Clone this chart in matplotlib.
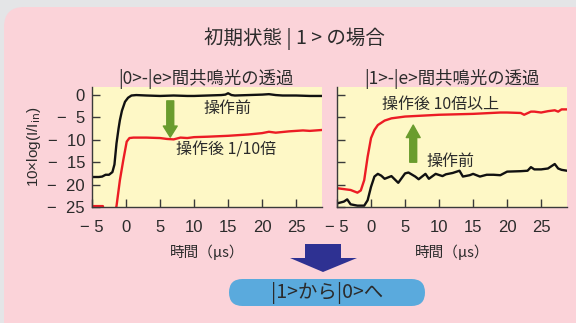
import matplotlib
matplotlib.use("Agg")
import matplotlib.pyplot as plt
from matplotlib.patches import FancyBboxPatch, Polygon
from matplotlib.transforms import IdentityTransform

W, H = 576, 323
JP = ["Noto Sans CJK JP", "DejaVu Sans"]
NUM = ["Liberation Sans", "DejaVu Sans"]

# data (time in us, 10*log(I/Iin))
l_black_x = [-5, -4, -3.5, -3, -2.5, -2, -1.7, -1.4, -1.1, -0.9, -0.6, -0.15, 0.3, 0.8, 1.5, 3, 5, 7, 9, 10, 12, 14, 14.6, 15, 15.5, 16, 18, 20, 21, 22, 23, 25, 27, 28.8]
l_black_y = [-18.3, -18.3, -18.2, -17.8, -17.8, -17.2, -15.5, -10.8, -7.5, -5.6, -3.5, -1.5, -0.6, -0.1, 0, -0.1, -0.2, -0.1, -0.2, -0.2, -0.1, 0, 0.1, 0.4, 0.0, -0.1, 0, 0.1, 0.2, 0, -0.1, -0.1, -0.2, -0.2]
l_red_x = [-5, -3.4, -3.3, -1.6, -1.4, -0.9, -0.4, 0.1, 0.5, 1.1, 3, 5, 6, 7, 8, 9, 10, 12, 15, 18, 20, 21, 22, 24, 26, 27, 28.8]
l_red_y = [-24.8, -24.8, -26, -26, -24.8, -19, -14.5, -10.4, -9.6, -9.5, -9.5, -9.6, -9.8, -9.9, -9.5, -9.6, -9.4, -9.3, -9.1, -8.8, -8.5, -8.2, -8.4, -8.1, -7.9, -8.0, -7.8]

r_red_x = [-5, -4, -3, -2, -1.5, -1, -0.5, 0, 0.5, 1, 2, 3, 5, 10, 15, 19, 20, 22, 22.5, 23.5, 24, 25, 26, 27, 27.5, 28, 28.8]
r_red_y = [-20.8, -21.0, -21.2, -21.8, -21.3, -19.0, -13.8, -9.6, -7.8, -6.7, -5.7, -5.2, -4.8, -4.4, -4.2, -3.9, -3.9, -4.0, -4.4, -3.7, -3.7, -3.9, -3.6, -3.4, -3.7, -3.2, -3.2]
r_black_x = [-5, -4, -3.5, -3, -2, -1, -0.5, 0, 0.5, 1, 1.5, 2, 3, 4, 5, 5.5, 6.5, 7, 8, 8.5, 9.5, 10.5, 11, 12, 13, 13.5, 14.5, 15, 16, 17, 18, 19, 20, 22, 23, 23.5, 24, 25, 26, 27, 27.5, 28, 28.8]
r_black_y = [-24.2, -23.8, -23.3, -24.4, -24.7, -24.7, -23.5, -20.5, -18.2, -17.6, -18.0, -18.7, -18.1, -19.6, -17.5, -17.3, -18.2, -18.8, -17.6, -18.7, -17.6, -18.1, -17.7, -17.4, -16.9, -18.2, -17.9, -17.6, -18.2, -17.8, -17.8, -17.9, -17.1, -17.0, -16.9, -16.1, -16.6, -16.6, -16.4, -15.4, -16.4, -16.7, -16.9]

x_ticks = [-5, 0, 5, 10, 15, 20, 25]
x_labels = ["\u2212 5", "0", "5", "10", "15", "20", "25"]
y_ticks = [-25, -20, -15, -10, -5, 0]
y_labels = ["\u2212  25", "\u2212  20", "\u2212  15", "\u2212  10", "\u2212  5", "0"]

BG = "#e4e5e7"
PINK = "#fbd3d9"
YELLOW = "#fef8c6"
RED = "#ec1c24"
GREEN = "#6a9c2e"
NAVY = "#2e3192"
SKY = "#5aaadd"
TXT = "#2b2b2b"

fig = plt.figure(figsize=(W / 100, H / 100), dpi=100, facecolor=BG)


def fx(x):
    return x / W


def fy(y):
    return 1 - y / H


# pink rounded panel (display pixels, origin bottom-left)
fig.patches.append(FancyBboxPatch((4, -30), 620, 346, boxstyle="round,pad=0,rounding_size=20",
                                  transform=IdentityTransform(), facecolor=PINK, edgecolor="none", zorder=-5))


def make_axes(left, labels):
    ax = fig.add_axes([fx(left), fy(207), 230 / W, 120 / H])
    ax.set_facecolor(YELLOW)
    ax.set_xlim(-5, 28.8)
    ax.set_ylim(-25, 1.8)
    for s in ["top", "right"]:
        ax.spines[s].set_visible(False)
    for s in ["left", "bottom"]:
        ax.spines[s].set_color("#3a3a3a")
        ax.spines[s].set_linewidth(1.0)
    ax.set_xticks(x_ticks)
    ax.set_xticklabels(x_labels, fontfamily=NUM, fontsize=12, color=TXT)
    ax.set_yticks(y_ticks)
    if labels:
        ax.set_yticklabels(y_labels, fontfamily=NUM, fontsize=12, color=TXT)
    else:
        ax.set_yticklabels([])
    ax.tick_params(axis="x", direction="in", length=6, width=1, color="#3a3a3a", pad=9)
    ax.tick_params(axis="y", direction="in", length=6, width=1, color="#3a3a3a", pad=5)
    ax.set_xlabel("時間（μs）", fontfamily=JP, fontsize=10.5, color=TXT, labelpad=7)
    return ax


ax1 = make_axes(92, True)
ax1.plot(l_black_x, l_black_y, color="#111111", lw=1.7)
ax1.plot(l_red_x, l_red_y, color=RED, lw=1.7)
ax1.set_ylabel("10×log(I/I$_{\\mathrm{in}}$)", fontfamily=NUM, fontsize=11, color=TXT, labelpad=3)
ax1.annotate("", xy=(6.5, -9.4), xytext=(6.5, -1.3),
             arrowprops=dict(arrowstyle="simple,head_width=1.0,head_length=0.8,tail_width=0.5",
                             color=GREEN, mutation_scale=10, shrinkA=0, shrinkB=0))
ax1.text(11.3, -3.1, "操作前", fontfamily=JP, fontsize=11.5, color=TXT, va="center")
ax1.text(7.3, -12.2, "操作後 1/10倍", fontfamily=JP, fontsize=11.5, color=TXT, va="center")

ax2 = make_axes(337, False)
ax2.plot(r_black_x, r_black_y, color="#111111", lw=1.7)
ax2.plot(r_red_x, r_red_y, color=RED, lw=1.7)
ax2.annotate("", xy=(6.2, -6.7), xytext=(6.2, -15.0),
             arrowprops=dict(arrowstyle="simple,head_width=1.0,head_length=0.9,tail_width=0.5",
                             color=GREEN, mutation_scale=10, shrinkA=0, shrinkB=0))
ax2.text(1.6, -2.2, "操作後 10倍以上", fontfamily=JP, fontsize=11.5, color=TXT, va="center")
ax2.text(8.1, -14.8, "操作前", fontfamily=JP, fontsize=11.5, color=TXT, va="center")

# titles
fig.text(fx(294), fy(39), "初期状態 | 1 > の場合", fontfamily=JP, fontsize=14, color=TXT, ha="center", va="center")
fig.text(fx(206), fy(79), "|0>-|e>間共鳴光の透過", fontfamily=JP, fontsize=12.5, color=TXT, ha="center", va="center")
fig.text(fx(452), fy(79), "|1>-|e>間共鳴光の透過", fontfamily=JP, fontsize=12.5, color=TXT, ha="center", va="center")

# blue arrow and result label
arrow_pts = [(305, 244), (341, 244), (341, 258), (357, 258), (323, 272), (290, 258), (305, 258)]
fig.patches.append(Polygon([(x, H - y) for x, y in arrow_pts], closed=True, transform=IdentityTransform(),
                           facecolor=NAVY, edgecolor="none", zorder=2))
fig.patches.append(FancyBboxPatch((229, H - 306), 196, 27, boxstyle="round,pad=0,rounding_size=13.5",
                                  transform=IdentityTransform(), facecolor=SKY, edgecolor="none", zorder=2))
fig.text(fx(327), fy(292.5), "|1>から|0>へ", fontfamily=JP, fontsize=14, color=TXT, ha="center", va="center")

fig.savefig("out.png", dpi=100, facecolor=BG)
